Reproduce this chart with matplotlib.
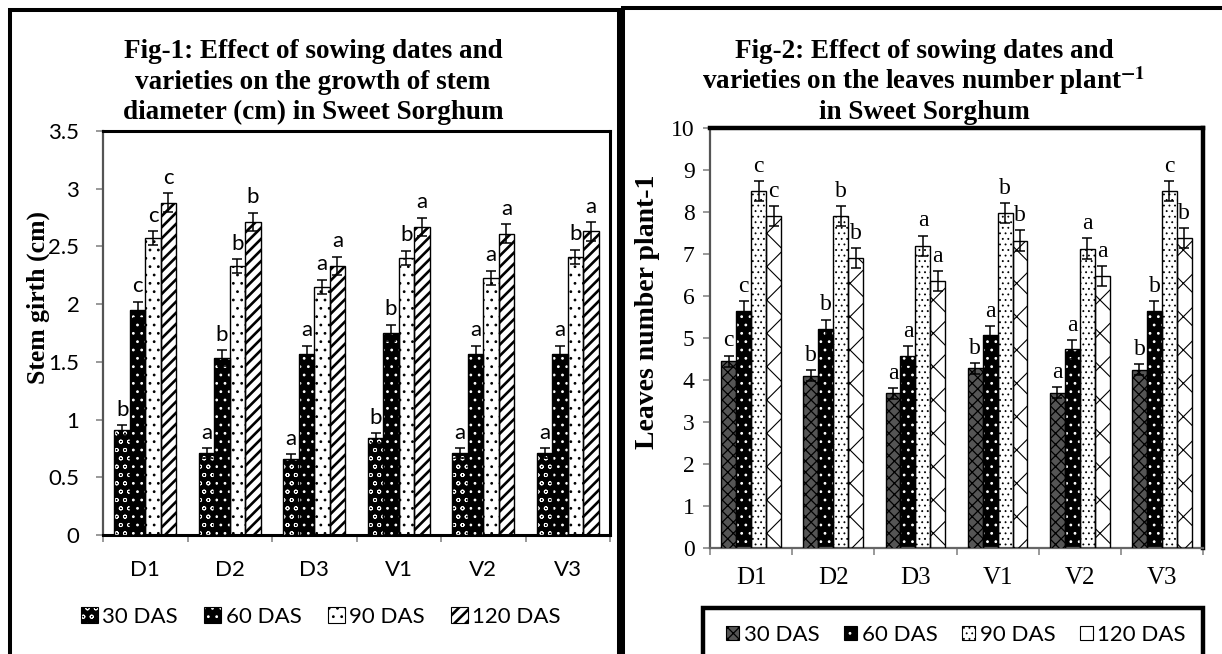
import matplotlib
matplotlib.use('Agg')
import matplotlib.pyplot as plt
from matplotlib.patches import Rectangle, Patch

plt.rcParams['mathtext.fontset'] = 'stix'
plt.rcParams['hatch.linewidth'] = 1.9

W, H = 1222, 654
SANS = 'Lato'
SERIF = 'Liberation Serif'

groups = ['D1', 'D2', 'D3', 'V1', 'V2', 'V3']
stages = ['30 DAS', '60 DAS', '90 DAS', '120 DAS']

# Fig-1: stem girth (cm)
girth_30 = [0.91, 0.71, 0.66, 0.84, 0.71, 0.71]
girth_60 = [1.95, 1.53, 1.57, 1.75, 1.57, 1.57]
girth_90 = [2.57, 2.33, 2.15, 2.40, 2.23, 2.41]
girth_120 = [2.88, 2.71, 2.33, 2.67, 2.61, 2.63]
girth_err_30 = [0.04, 0.04, 0.04, 0.04, 0.04, 0.04]
girth_err_60 = [0.07, 0.07, 0.07, 0.07, 0.07, 0.07]
girth_err_90 = [0.06, 0.06, 0.06, 0.06, 0.06, 0.06]
girth_err_120 = [0.08, 0.08, 0.08, 0.08, 0.08, 0.08]
girth_let_30 = ['b', 'a', 'a', 'b', 'a', 'a']
girth_let_60 = ['c', 'b', 'a', 'b', 'a', 'a']
girth_let_90 = ['c', 'b', 'a', 'b', 'a', 'b']
girth_let_120 = ['c', 'b', 'a', 'a', 'a', 'a']

# Fig-2: leaves number per plant
leaves_30 = [4.45, 4.10, 3.68, 4.28, 3.70, 4.25]
leaves_60 = [5.65, 5.22, 4.58, 5.07, 4.73, 5.65]
leaves_90 = [8.50, 7.90, 7.20, 7.97, 7.13, 8.50]
leaves_120 = [7.90, 6.90, 6.35, 7.32, 6.48, 7.38]
leaves_err_30 = [0.13, 0.13, 0.13, 0.13, 0.13, 0.13]
leaves_err_60 = [0.22, 0.22, 0.22, 0.22, 0.22, 0.22]
leaves_err_90 = [0.24, 0.24, 0.24, 0.24, 0.24, 0.24]
leaves_err_120 = [0.24, 0.24, 0.24, 0.24, 0.24, 0.24]
leaves_let_30 = ['c', 'b', 'a', 'b', 'a', 'b']
leaves_let_60 = ['c', 'b', 'a', 'a', 'a', 'b']
leaves_let_90 = ['c', 'b', 'a', 'b', 'a', 'c']
leaves_let_120 = ['c', 'b', 'a', 'b', 'a', 'b']

# hatch line widths per pattern
HATCH_LW = {'oo': 0.6, '..': 0.8, '///': 1.9, 'xxx': 0.9, '...': 0.6, 'x': 0.8}


def fx(x):
    return x / W


def fy(y):
    return 1 - y / H


def draw_series(ax, xs, vals, errs, lets, style, width, font, let_off, cap):
    face, hatch, hcol = style
    ax.bar(xs, vals, width, color=face, linewidth=0, zorder=2)
    ax.bar(xs, vals, width, facecolor='none', edgecolor=hcol,
           hatch=hatch, linewidth=0, zorder=3)
    ax.bar(xs, vals, width, facecolor='none', edgecolor='black',
           linewidth=1.0, zorder=4)
    ax.errorbar(xs, vals, yerr=errs, fmt='none', ecolor='black',
                elinewidth=1.1, capsize=cap, capthick=1.1, zorder=5)
    for x, v, e, t in zip(xs, vals, errs, lets):
        ax.annotate(t, (x, v + e), xytext=(0, let_off),
                    textcoords='offset points', ha='center', va='bottom',
                    **font)


def legend_handles(styles):
    hs = []
    for face, hatch, hcol in styles:
        base = Patch(facecolor=face, linewidth=0)
        hp = Patch(facecolor='none', edgecolor=hcol, hatch=hatch, linewidth=0)
        edge = Patch(facecolor='none', edgecolor='black', linewidth=0.8)
        hs.append((base, hp, edge))
    return hs


def hatch_lw_wrap(p, lw):
    try:
        p.set_hatch_linewidth(lw)
    except AttributeError:
        pass
    p._hatch_linewidth = lw
    orig = p.draw

    def draw(renderer):
        with plt.rc_context({'hatch.linewidth': lw}):
            orig(renderer)
    p.draw = draw


fig = plt.figure(figsize=(W / 100, H / 100), dpi=100)

# panel borders
fig.add_artist(Rectangle((fx(10), fy(700)), (619 - 10) / W, (700 - 10) / H,
                         transform=fig.transFigure, fill=False, lw=2.9,
                         ec='black', clip_on=False))
fig.add_artist(Rectangle((fx(623), fy(700)), (1240 - 623) / W, (700 - 8) / H,
                         transform=fig.transFigure, fill=False, lw=2.9,
                         ec='black', clip_on=False))

bw = 0.182
offs = [-1.5 * bw, -0.5 * bw, 0.5 * bw, 1.5 * bw]
xc = list(range(len(groups)))

# ---------------- Fig-1 ----------------
ax1 = fig.add_axes([fx(103), fy(535), (610 - 103) / W, (535 - 131) / H])
styles1 = [('black', 'oo', 'white'),
           ('black', '..', 'white'),
           ('white', '..', 'black'),
           ('white', '///', 'black')]
vals1 = [girth_30, girth_60, girth_90, girth_120]
errs1 = [girth_err_30, girth_err_60, girth_err_90, girth_err_120]
lets1 = [girth_let_30, girth_let_60, girth_let_90, girth_let_120]
lfont1 = dict(family=SANS, fontsize=16)
for i in range(4):
    xs = [x + offs[i] for x in xc]
    draw_series(ax1, xs, vals1[i], errs1[i], lets1[i], styles1[i], bw,
                lfont1, 4, 3.3)

ax1.set_xlim(-0.5, 5.5)
ax1.set_ylim(0, 3.5)
yt1 = [0, 0.5, 1, 1.5, 2, 2.5, 3, 3.5]
ax1.set_yticks(yt1)
ax1.set_yticklabels(['0', '0.5', '1', '1.5', '2', '2.5', '3', '3.5'],
                    family=SANS, fontsize=16)
ax1.set_xticks(xc)
ax1.set_xticklabels(groups, family=SANS, fontsize=16)
ax1.set_xticks([x - 0.5 for x in range(7)], minor=True)
ax1.tick_params(axis='x', which='major', length=0, pad=18)
ax1.tick_params(axis='x', which='minor', length=5, width=1.2, color='#888888')
ax1.tick_params(axis='y', length=5, width=1.2, color='#888888', pad=12)
for s in ['top', 'right', 'bottom']:
    ax1.spines[s].set_linewidth(2.2)
    ax1.spines[s].set_color('black')
ax1.spines['left'].set_linewidth(1.6)
ax1.spines['left'].set_color('#555555')

t1 = ['Fig-1: Effect of sowing dates and',
      'varieties on the growth of stem',
      'diameter (cm) in Sweet Sorghum']
for line, yb in zip(t1, [58, 89, 119]):
    fig.text(fx(313), fy(yb), line, ha='center', va='baseline',
             family=SERIF, fontweight='bold', fontsize=19.5)
fig.text(fx(38), fy(297), 'Stem girth (cm)', rotation=90, ha='center',
         va='center', family=SERIF, fontweight='bold', fontsize=18.5)

ax1.legend(legend_handles(styles1), stages, loc='center',
           bbox_to_anchor=(fx(321), fy(617)), bbox_transform=fig.transFigure,
           ncol=4, frameon=False, prop=dict(family=SANS, size=16),
           handlelength=0.75, handleheight=0.7, handletextpad=0.2,
           columnspacing=1.2, borderpad=0)

# ---------------- Fig-2 ----------------
ax2 = fig.add_axes([fx(710), fy(548), (1203 - 710) / W, (548 - 128) / H])
styles2 = [('#555555', 'xxx', 'black'),
           ('black', '..', 'white'),
           ('white', '...', 'black'),
           ('white', 'x', 'black')]
vals2 = [leaves_30, leaves_60, leaves_90, leaves_120]
errs2 = [leaves_err_30, leaves_err_60, leaves_err_90, leaves_err_120]
lets2 = [leaves_let_30, leaves_let_60, leaves_let_90, leaves_let_120]
lfont2 = dict(family=SERIF, fontsize=17)
for i in range(4):
    xs = [x + offs[i] for x in xc]
    draw_series(ax2, xs, vals2[i], errs2[i], lets2[i], styles2[i], bw,
                lfont2, 3, 3.8)

ax2.set_xlim(-0.5, 5.5)
ax2.set_ylim(0, 10)
ax2.set_yticks(range(11))
ax2.set_yticklabels([str(v) for v in range(11)], family=SERIF, fontsize=17)
ax2.set_xticks(xc)
ax2.set_xticklabels(groups, family=SERIF, fontsize=18)
ax2.set_xticks([x - 0.5 for x in range(7)], minor=True)
ax2.tick_params(axis='x', which='major', length=0, pad=14)
ax2.tick_params(axis='x', which='minor', length=5, width=1.2, color='#888888')
ax2.tick_params(axis='y', length=5, width=1.2, color='#888888', pad=6)
for s in ['top', 'right']:
    ax2.spines[s].set_linewidth(3.2)
    ax2.spines[s].set_color('black')
ax2.spines['bottom'].set_linewidth(1.6)
ax2.spines['bottom'].set_color('#666666')
ax2.spines['left'].set_linewidth(1.6)
ax2.spines['left'].set_color('#555555')

t2 = ['Fig-2: Effect of sowing dates and',
      r'varieties on the leaves number plant$^{\mathbf{-1}}$',
      'in Sweet Sorghum']
for line, yb in zip(t2, [58, 89, 119]):
    fig.text(fx(924), fy(yb), line, ha='center', va='baseline',
             family=SERIF, fontweight='bold', fontsize=19.5)
fig.text(fx(648), fy(312), 'Leaves number plant-1', rotation=90, ha='center',
         va='center', family=SERIF, fontweight='bold', fontsize=20)

ax2.legend(legend_handles(styles2), stages, loc='center',
           bbox_to_anchor=(fx(956), fy(635)), bbox_transform=fig.transFigure,
           ncol=4, frameon=False, prop=dict(family=SANS, size=16),
           handlelength=0.6, handleheight=0.6, handletextpad=0.2,
           columnspacing=1.1, borderpad=0)
fig.add_artist(Rectangle((fx(703), fy(700)), (1203 - 703) / W, (700 - 608) / H,
                         transform=fig.transFigure, fill=False, lw=3.2,
                         ec='black', clip_on=False))

# per-pattern hatch line widths (bars and legend swatches)
for p in fig.findobj(Patch):
    h = p.get_hatch()
    if h in HATCH_LW:
        hatch_lw_wrap(p, HATCH_LW[h])

fig.savefig('out.png', dpi=100)
